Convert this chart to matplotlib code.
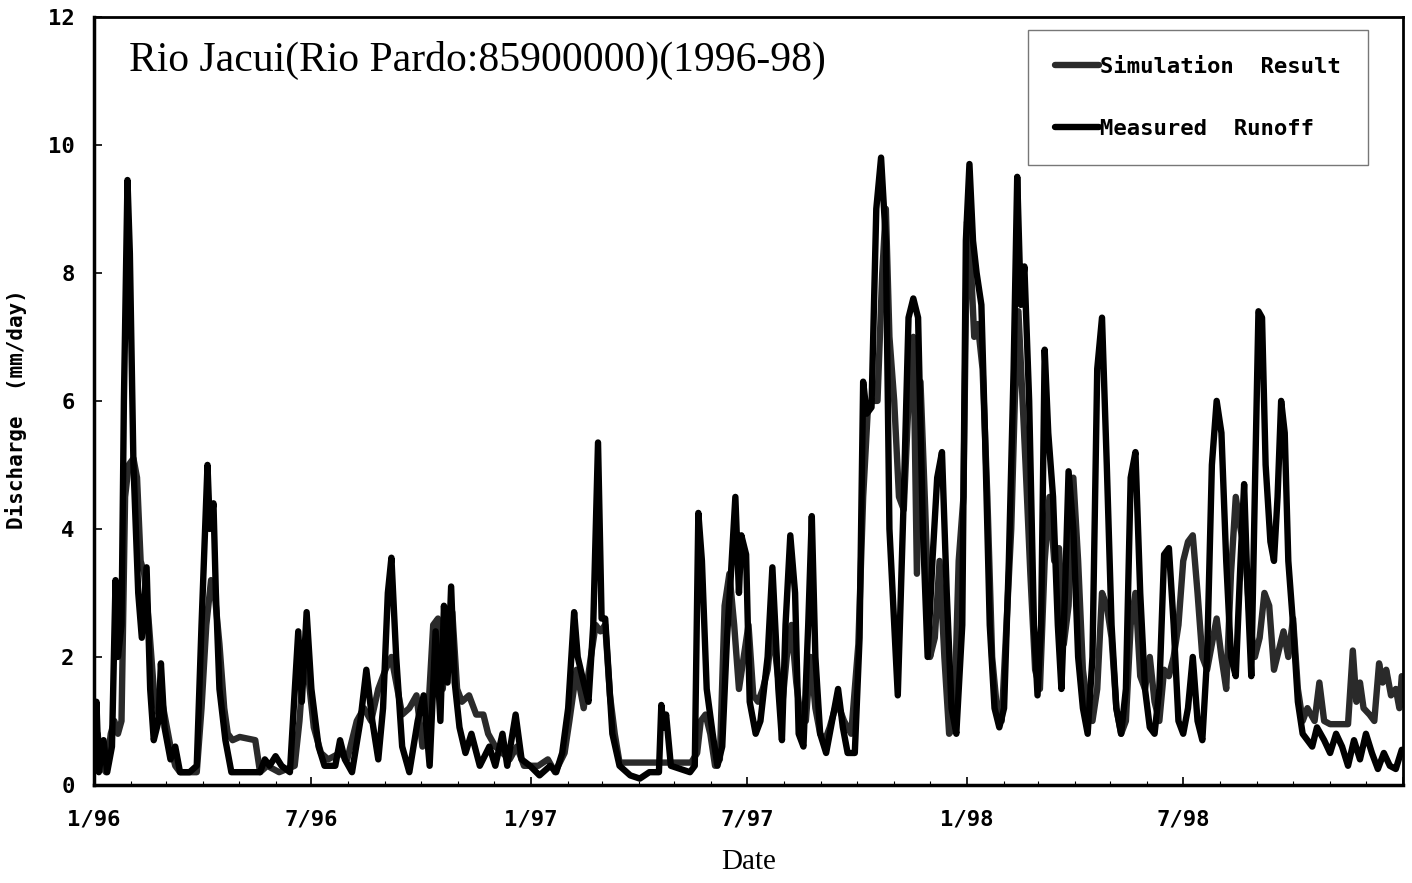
import matplotlib
matplotlib.use('Agg')
import matplotlib.pyplot as plt
import matplotlib.dates as mdates
from matplotlib.ticker import FuncFormatter
import pandas as pd

# (day since 1/1/1996, discharge mm/day)
measured_1996 = [
    (0, 0.3), (2, 1.3), (4, 0.2), (8, 0.7), (11, 0.2), (15, 0.6), (18, 3.2), (20, 2.0),
    (23, 2.5), (25, 6.0), (28, 9.45), (30, 8.3), (33, 5.0), (37, 3.0), (40, 2.3), (44, 3.4),
    (47, 1.5), (50, 0.7), (54, 1.0), (56, 1.9), (59, 0.9), (64, 0.4), (68, 0.6), (72, 0.2),
    (80, 0.2), (86, 0.3), (90, 2.5), (92, 3.5), (95, 5.0), (97, 4.0), (100, 4.4), (102, 3.0),
    (105, 1.5), (110, 0.7), (115, 0.2), (139, 0.2), (143, 0.4), (147, 0.3), (152, 0.45),
    (157, 0.3), (164, 0.2), (171, 2.4), (174, 1.3), (178, 2.7), (182, 1.5), (188, 0.6),
    (193, 0.3), (202, 0.3), (206, 0.7), (210, 0.4), (216, 0.2), (223, 1.0), (228, 1.8),
    (233, 1.0), (238, 0.4), (242, 1.2), (246, 3.0), (249, 3.55), (253, 2.0), (258, 0.6),
    (264, 0.2), (271, 1.0), (276, 1.4), (281, 0.3), (286, 2.4), (290, 1.0), (293, 2.8),
    (296, 1.6), (299, 3.1), (302, 1.6), (306, 0.9), (311, 0.5), (316, 0.8), (323, 0.3),
    (331, 0.6), (336, 0.3), (342, 0.8), (346, 0.3), (353, 1.1), (358, 0.4), (365, 0.3),
]
measured_1997 = [
    (373, 0.15), (382, 0.3), (387, 0.2), (392, 0.5), (397, 1.2), (402, 2.7), (405, 2.0),
    (410, 1.6), (414, 1.3), (418, 2.5), (422, 5.35), (425, 2.6), (428, 2.6), (434, 0.8),
    (440, 0.3), (449, 0.15), (457, 0.1), (465, 0.2), (473, 0.2), (475, 1.25), (477, 0.9),
    (479, 1.1), (483, 0.3), (499, 0.2), (503, 0.3), (506, 4.25), (509, 3.5), (513, 1.5),
    (518, 0.8), (522, 0.3), (526, 0.6), (530, 2.3), (533, 3.2), (537, 4.5), (540, 3.0),
    (542, 3.9), (546, 3.6), (549, 1.3), (554, 0.8), (558, 1.0), (564, 2.0), (568, 3.4),
    (573, 1.5), (576, 0.7), (579, 2.5), (583, 3.9), (587, 3.0), (590, 0.8), (594, 0.6),
    (598, 2.5), (601, 4.2), (604, 2.0), (608, 0.8), (613, 0.5), (618, 1.0), (623, 1.5),
    (627, 0.9), (631, 0.5), (637, 0.5), (641, 2.3), (644, 6.3), (647, 5.8), (651, 5.9),
    (655, 9.0), (659, 9.8), (663, 8.5), (666, 4.0), (673, 1.4), (678, 4.5), (682, 7.3),
    (686, 7.6), (690, 7.3), (694, 4.0), (698, 2.0), (702, 3.5), (706, 4.8), (710, 5.2),
    (714, 3.0), (718, 1.2), (722, 0.8), (727, 2.5),
]
measured_1998 = [
    (730, 8.5), (733, 9.7), (736, 8.5), (739, 8.0), (743, 7.5), (746, 5.5), (750, 2.5),
    (754, 1.2), (758, 0.9), (762, 1.2), (766, 3.5), (770, 6.5), (773, 9.5), (776, 7.5),
    (779, 8.1), (783, 6.0), (787, 2.5), (790, 1.4), (793, 2.5), (796, 6.8), (799, 5.5),
    (803, 4.5), (807, 2.5), (810, 1.5), (813, 3.0), (816, 4.9), (820, 4.0), (824, 2.0),
    (828, 1.2), (832, 0.8), (836, 2.0), (840, 6.5), (844, 7.3), (848, 5.0), (852, 2.5),
    (856, 1.2), (860, 0.8), (864, 1.5), (868, 4.8), (872, 5.2), (876, 3.0), (880, 1.5),
    (884, 0.9), (888, 0.8), (892, 1.5), (896, 3.6), (900, 3.7), (904, 2.5), (908, 1.0),
    (912, 0.8), (916, 1.2), (920, 2.0), (924, 1.0), (928, 0.7), (932, 2.0), (936, 5.0),
    (940, 6.0), (944, 5.5), (948, 3.5), (952, 2.0), (956, 1.7), (960, 3.5), (963, 4.7),
    (966, 3.0), (969, 1.7), (972, 4.6), (975, 7.4), (978, 7.3), (981, 5.0), (985, 3.8),
    (988, 3.5), (991, 4.5), (994, 6.0), (997, 5.5), (1000, 3.5), (1004, 2.5), (1008, 1.3),
    (1012, 0.8), (1016, 0.7), (1020, 0.6), (1024, 0.9), (1030, 0.7), (1035, 0.5),
    (1040, 0.8), (1045, 0.6), (1050, 0.3), (1055, 0.7), (1060, 0.4), (1065, 0.8),
    (1070, 0.5), (1075, 0.25), (1080, 0.5), (1085, 0.3), (1090, 0.25), (1095, 0.55),
]

simulated_1996 = [
    (0, 0.5), (3, 0.8), (6, 0.3), (10, 0.2), (14, 0.8), (17, 1.0), (20, 0.8), (23, 1.0),
    (26, 4.5), (29, 5.0), (33, 5.1), (36, 4.8), (39, 3.5), (42, 3.3), (46, 2.5), (50, 1.5),
    (54, 1.1), (57, 1.3), (60, 1.0), (64, 0.6), (68, 0.3), (72, 0.2), (86, 0.2), (90, 1.2),
    (94, 2.5), (98, 3.2), (101, 3.0), (105, 2.2), (109, 1.2), (112, 0.8), (116, 0.7),
    (122, 0.75), (135, 0.7), (139, 0.2), (145, 0.3), (155, 0.2), (168, 0.3), (172, 1.0),
    (176, 2.0), (180, 1.6), (184, 0.9), (190, 0.5), (196, 0.4), (206, 0.5), (212, 0.4),
    (220, 1.0), (226, 1.2), (232, 1.0), (238, 1.5), (244, 1.8), (249, 2.0), (254, 1.5),
    (258, 1.1), (264, 1.2), (270, 1.4), (275, 0.6), (280, 1.2), (284, 2.5), (288, 2.6),
    (292, 1.5), (296, 2.6), (300, 2.7), (304, 1.5), (308, 1.3), (314, 1.4), (320, 1.1),
    (326, 1.1), (330, 0.8), (336, 0.6), (342, 0.5), (348, 0.4), (354, 0.6), (360, 0.3),
    (365, 0.3),
]
simulated_1997 = [
    (372, 0.3), (380, 0.4), (386, 0.2), (394, 0.5), (398, 1.0), (404, 1.8), (410, 1.2),
    (416, 2.0), (420, 2.5), (424, 2.4), (428, 2.5), (432, 1.4), (436, 0.8), (440, 0.35),
    (500, 0.35), (505, 0.5), (508, 1.0), (512, 1.1), (516, 0.8), (520, 0.3), (524, 0.4),
    (528, 2.8), (532, 3.3), (536, 2.5), (540, 1.5), (544, 2.0), (548, 2.5), (552, 1.4),
    (556, 1.3), (560, 1.5), (564, 1.8), (568, 2.5), (572, 1.8), (576, 1.2), (580, 2.0),
    (584, 2.5), (588, 1.6), (592, 1.0), (596, 1.0), (600, 2.0), (604, 1.2), (608, 0.8),
    (612, 0.7), (616, 0.9), (622, 1.3), (628, 1.0), (634, 0.8), (640, 2.2), (644, 4.5),
    (648, 5.9), (652, 6.0), (656, 6.0), (660, 8.0), (663, 9.0), (666, 7.0), (670, 6.0),
    (674, 4.5), (678, 4.3), (682, 6.0), (686, 7.0), (689, 3.3), (692, 6.3), (696, 4.3),
    (700, 2.0), (704, 2.3), (708, 3.5), (712, 2.0), (716, 0.8), (720, 0.9), (724, 3.5),
    (728, 4.5),
]
simulated_1998 = [
    (731, 8.8), (734, 8.2), (737, 7.0), (740, 7.2), (744, 6.5), (748, 4.5), (752, 2.0),
    (756, 1.2), (760, 1.0), (764, 2.5), (768, 4.0), (771, 6.0), (774, 7.4), (777, 6.2),
    (780, 5.0), (784, 3.3), (788, 1.8), (792, 1.5), (796, 3.5), (800, 4.5), (804, 3.5),
    (808, 3.7), (812, 2.2), (816, 2.8), (820, 4.8), (824, 3.5), (828, 1.8), (832, 1.2),
    (836, 1.0), (840, 1.5), (844, 3.0), (848, 2.8), (852, 2.3), (856, 1.2), (860, 0.8),
    (864, 1.0), (868, 2.5), (872, 3.0), (876, 1.7), (880, 1.5), (884, 2.0), (888, 1.3),
    (892, 1.0), (896, 1.8), (900, 1.7), (904, 2.0), (908, 2.5), (912, 3.5), (916, 3.8),
    (920, 3.9), (924, 3.0), (928, 2.0), (932, 1.8), (936, 2.2), (940, 2.6), (944, 2.0),
    (948, 1.5), (952, 3.3), (956, 4.5), (960, 4.0), (964, 3.6), (968, 2.5), (972, 2.0),
    (976, 2.3), (980, 3.0), (984, 2.8), (988, 1.8), (992, 2.1), (996, 2.4), (1000, 2.0),
    (1004, 2.6), (1008, 1.5), (1012, 1.0), (1016, 1.2), (1022, 1.0), (1026, 1.6),
    (1030, 1.0), (1035, 0.95), (1050, 0.95), (1054, 2.1), (1057, 1.3), (1060, 1.6),
    (1063, 1.2), (1068, 1.1), (1072, 1.0), (1076, 1.9), (1079, 1.6), (1082, 1.8),
    (1086, 1.4), (1090, 1.5), (1093, 1.2), (1095, 1.7),
]

start = pd.Timestamp('1996-01-01')


def to_series(*parts):
    pts = [p for part in parts for p in part]
    days = [p[0] for p in pts]
    vals = [p[1] for p in pts]
    return start + pd.to_timedelta(days, unit='D'), vals


sim_x, sim_y = to_series(simulated_1996, simulated_1997, simulated_1998)
obs_x, obs_y = to_series(measured_1996, measured_1997, measured_1998)

mono = 'DejaVu Sans Mono'
serif = 'Liberation Serif'

fig = plt.figure(figsize=(14.12, 8.83), dpi=100)
ax = fig.add_axes([0.0666, 0.111, 0.927, 0.870])

ax.plot(sim_x, sim_y, color='#2a2a2a', lw=4.6, solid_joinstyle='round',
        solid_capstyle='round', label='Simulation  Result')
ax.plot(obs_x, obs_y, color='black', lw=4.6, solid_joinstyle='round',
        solid_capstyle='round', label='Measured  Runoff')

ax.set_xlim(pd.Timestamp('1996-01-01'), pd.Timestamp('1999-01-01'))
ax.set_ylim(0, 12)
ax.set_yticks([0, 2, 4, 6, 8, 10, 12])

ax.xaxis.set_major_locator(mdates.MonthLocator(bymonth=[1, 7]))
ax.xaxis.set_minor_locator(mdates.MonthLocator())
ax.xaxis.set_major_formatter(FuncFormatter(
    lambda v, p: '%d/%s' % (mdates.num2date(v).month, str(mdates.num2date(v).year)[2:])
    if mdates.num2date(v).year < 1999 else ''))

ax.tick_params(axis='both', which='major', direction='in', length=6, width=1.2)
ax.tick_params(axis='x', which='minor', direction='in', length=3, width=0.8)
ax.tick_params(axis='x', pad=18)
ax.tick_params(axis='y', pad=14)
for lab in ax.get_xticklabels() + ax.get_yticklabels():
    lab.set_fontfamily(mono)
    lab.set_fontweight('bold')
    lab.set_fontsize(16)

for side, w in [('left', 2.5), ('bottom', 2.5), ('top', 2.0), ('right', 2.0)]:
    ax.spines[side].set_linewidth(w)

ax.set_ylabel('Discharge  (mm/day)', fontfamily=mono, fontweight='bold', fontsize=15)
ax.yaxis.set_label_coords(-0.051, 0.49)
ax.set_xlabel('Date', fontfamily=serif, fontsize=21, labelpad=14)

ax.text(0.027, 0.968, 'Rio Jacui(Rio Pardo:85900000)(1996-98)', transform=ax.transAxes,
        fontfamily=serif, fontsize=30, va='top', ha='left')

leg = ax.legend(loc='upper right', bbox_to_anchor=(0.973, 0.983), borderaxespad=0,
                prop={'family': mono, 'weight': 'bold', 'size': 16},
                fancybox=False, frameon=True, handlelength=2.0, handletextpad=0.05,
                labelspacing=1.9, borderpad=1.2)
leg.get_frame().set_edgecolor('#555555')
leg.get_frame().set_linewidth(1.0)

fig.savefig('out.png', dpi=100)
